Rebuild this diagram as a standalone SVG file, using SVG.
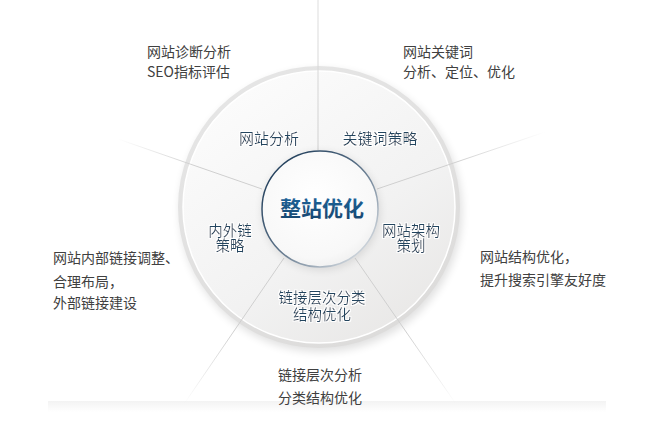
<svg xmlns="http://www.w3.org/2000/svg" width="654" height="442" viewBox="0 0 654 442">
<defs>
<style>
.note{font-family:"Noto Sans CJK SC","Noto Sans",sans-serif;font-size:14px;fill:#404040;}
.lbl{font-family:"Noto Sans CJK SC","Noto Sans",sans-serif;font-size:15px;fill:#22445f;text-anchor:middle;}
.lbl2{font-family:"Noto Sans CJK SC","Noto Sans",sans-serif;font-size:14.5px;fill:#22445f;text-anchor:middle;}
.title{font-family:"Noto Sans CJK SC","Noto Sans",sans-serif;font-size:21px;font-weight:bold;fill:url(#titleGrad);text-anchor:middle;}
.spoke{fill:none;stroke-width:1;}
</style>
<linearGradient id="titleGrad" x1="0" y1="0" x2="0" y2="1">
<stop offset="0" stop-color="#1e69a3"/><stop offset="1" stop-color="#17446b"/>
</linearGradient>
<linearGradient id="discGrad" x1="0.2" y1="0.1" x2="0.8" y2="0.95">
<stop offset="0" stop-color="#fbfbfb"/><stop offset="0.6" stop-color="#f2f2f2"/><stop offset="1" stop-color="#e9e8e7"/>
</linearGradient>
<linearGradient id="ringGrad" x1="0.2" y1="0" x2="0.8" y2="1">
<stop offset="0" stop-color="#e6e6e6"/><stop offset="1" stop-color="#dcdbda"/>
</linearGradient>
<radialGradient id="innerFill" cx="0.45" cy="0.4" r="0.65">
<stop offset="0" stop-color="#ffffff"/><stop offset="0.8" stop-color="#f8f8f8"/><stop offset="1" stop-color="#eeeeee"/>
</radialGradient>
<linearGradient id="innerStroke" x1="0.1" y1="0.1" x2="0.9" y2="0.9">
<stop offset="0" stop-color="#1f3d5a"/><stop offset="0.5" stop-color="#5c7288"/><stop offset="1" stop-color="#d6dce2"/>
</linearGradient>
<linearGradient id="floorGrad" x1="0" y1="0" x2="0" y2="1">
<stop offset="0" stop-color="#f3f3f3"/><stop offset="1" stop-color="#ffffff"/>
</linearGradient>
<linearGradient id="gTop" gradientUnits="userSpaceOnUse" x1="318" y1="150" x2="318" y2="0">
<stop offset="0" stop-color="#cfcfcf"/><stop offset="1" stop-color="#dedede"/>
</linearGradient>
<linearGradient id="gUR" gradientUnits="userSpaceOnUse" x1="377" y1="189" x2="545" y2="132">
<stop offset="0.45" stop-color="#cfcfcf"/><stop offset="1" stop-color="#cfcfcf" stop-opacity="0"/>
</linearGradient>
<linearGradient id="gLR" gradientUnits="userSpaceOnUse" x1="355" y1="258" x2="456" y2="404">
<stop offset="0.5" stop-color="#cfcfcf"/><stop offset="1" stop-color="#cfcfcf" stop-opacity="0"/>
</linearGradient>
<linearGradient id="gLL" gradientUnits="userSpaceOnUse" x1="284" y1="258" x2="184" y2="404">
<stop offset="0.5" stop-color="#cfcfcf"/><stop offset="1" stop-color="#cfcfcf" stop-opacity="0"/>
</linearGradient>
<linearGradient id="gUL" gradientUnits="userSpaceOnUse" x1="262" y1="189" x2="118" y2="139">
<stop offset="0.45" stop-color="#cfcfcf"/><stop offset="1" stop-color="#cfcfcf" stop-opacity="0"/>
</linearGradient>
<filter id="shadow" x="-20%" y="-20%" width="140%" height="140%">
<feGaussianBlur stdDeviation="4"/>
</filter>
<filter id="glow" x="-10%" y="-30%" width="120%" height="160%">
<feMorphology in="SourceAlpha" operator="dilate" radius="1" result="d"/>
<feFlood flood-color="#ffffff"/>
<feComposite in2="d" operator="in" result="w"/>
<feMerge><feMergeNode in="w"/><feMergeNode in="SourceGraphic"/></feMerge>
</filter>
</defs>
<rect width="654" height="442" fill="#ffffff"/>
<rect x="48" y="401" width="558" height="11" fill="url(#floorGrad)"/>

<g id="disc">
<circle cx="321" cy="211" r="141" fill="#000" opacity="0.12" filter="url(#shadow)"/>
<circle cx="319" cy="207" r="141" fill="url(#ringGrad)"/>
<circle cx="319" cy="207" r="136" fill="url(#discGrad)" stroke="#ffffff" stroke-width="1.5"/>
</g>

<g id="connectors">
<line class="spoke" x1="318" y1="150" x2="318" y2="0" stroke="url(#gTop)"/>
<line class="spoke" x1="377" y1="189" x2="545" y2="132" stroke="url(#gUR)"/>
<line class="spoke" x1="355" y1="258" x2="456" y2="404" stroke="url(#gLR)"/>
<line class="spoke" x1="284" y1="258" x2="184" y2="404" stroke="url(#gLL)"/>
<line class="spoke" x1="262" y1="189" x2="118" y2="139" stroke="url(#gUL)"/>
</g>

<g id="center">
<circle cx="321" cy="211" r="59" fill="#000" opacity="0.10" filter="url(#shadow)"/>
<circle cx="320" cy="209" r="58" fill="url(#innerFill)" stroke="url(#innerStroke)" stroke-width="1.5"/>
<text class="title" x="322" y="216">整站优化</text>
</g>

<g id="seg-analysis" filter="url(#glow)"><text class="lbl" x="269" y="144">网站分析</text></g>
<g id="seg-keyword" filter="url(#glow)"><text class="lbl" x="380" y="144">关键词策略</text></g>
<g id="seg-structure" filter="url(#glow)"><text class="lbl2" x="411" y="236">网站架构</text><text class="lbl2" x="411" y="251">策划</text></g>
<g id="seg-hierarchy" filter="url(#glow)"><text class="lbl2" x="322" y="303">链接层次分类</text><text class="lbl2" x="322" y="320">结构优化</text></g>
<g id="seg-links" filter="url(#glow)"><text class="lbl2" x="230" y="236">内外链</text><text class="lbl2" x="230" y="251">策略</text></g>

<g id="note-analysis"><text class="note" x="147" y="57">网站诊断分析</text><text class="note" x="147" y="77">SEO指标评估</text></g>
<g id="note-keyword"><text class="note" x="403" y="57">网站关键词</text><text class="note" x="403" y="77">分析、定位、优化</text></g>
<g id="note-structure"><text class="note" x="480" y="262">网站结构优化，</text><text class="note" x="480" y="285">提升搜索引擎友好度</text></g>
<g id="note-hierarchy"><text class="note" x="278" y="380">链接层次分析</text><text class="note" x="278" y="403">分类结构优化</text></g>
<g id="note-links"><text class="note" x="53" y="263">网站内部链接调整、</text><text class="note" x="53" y="287">合理布局，</text><text class="note" x="53" y="308">外部链接建设</text></g>
</svg>
